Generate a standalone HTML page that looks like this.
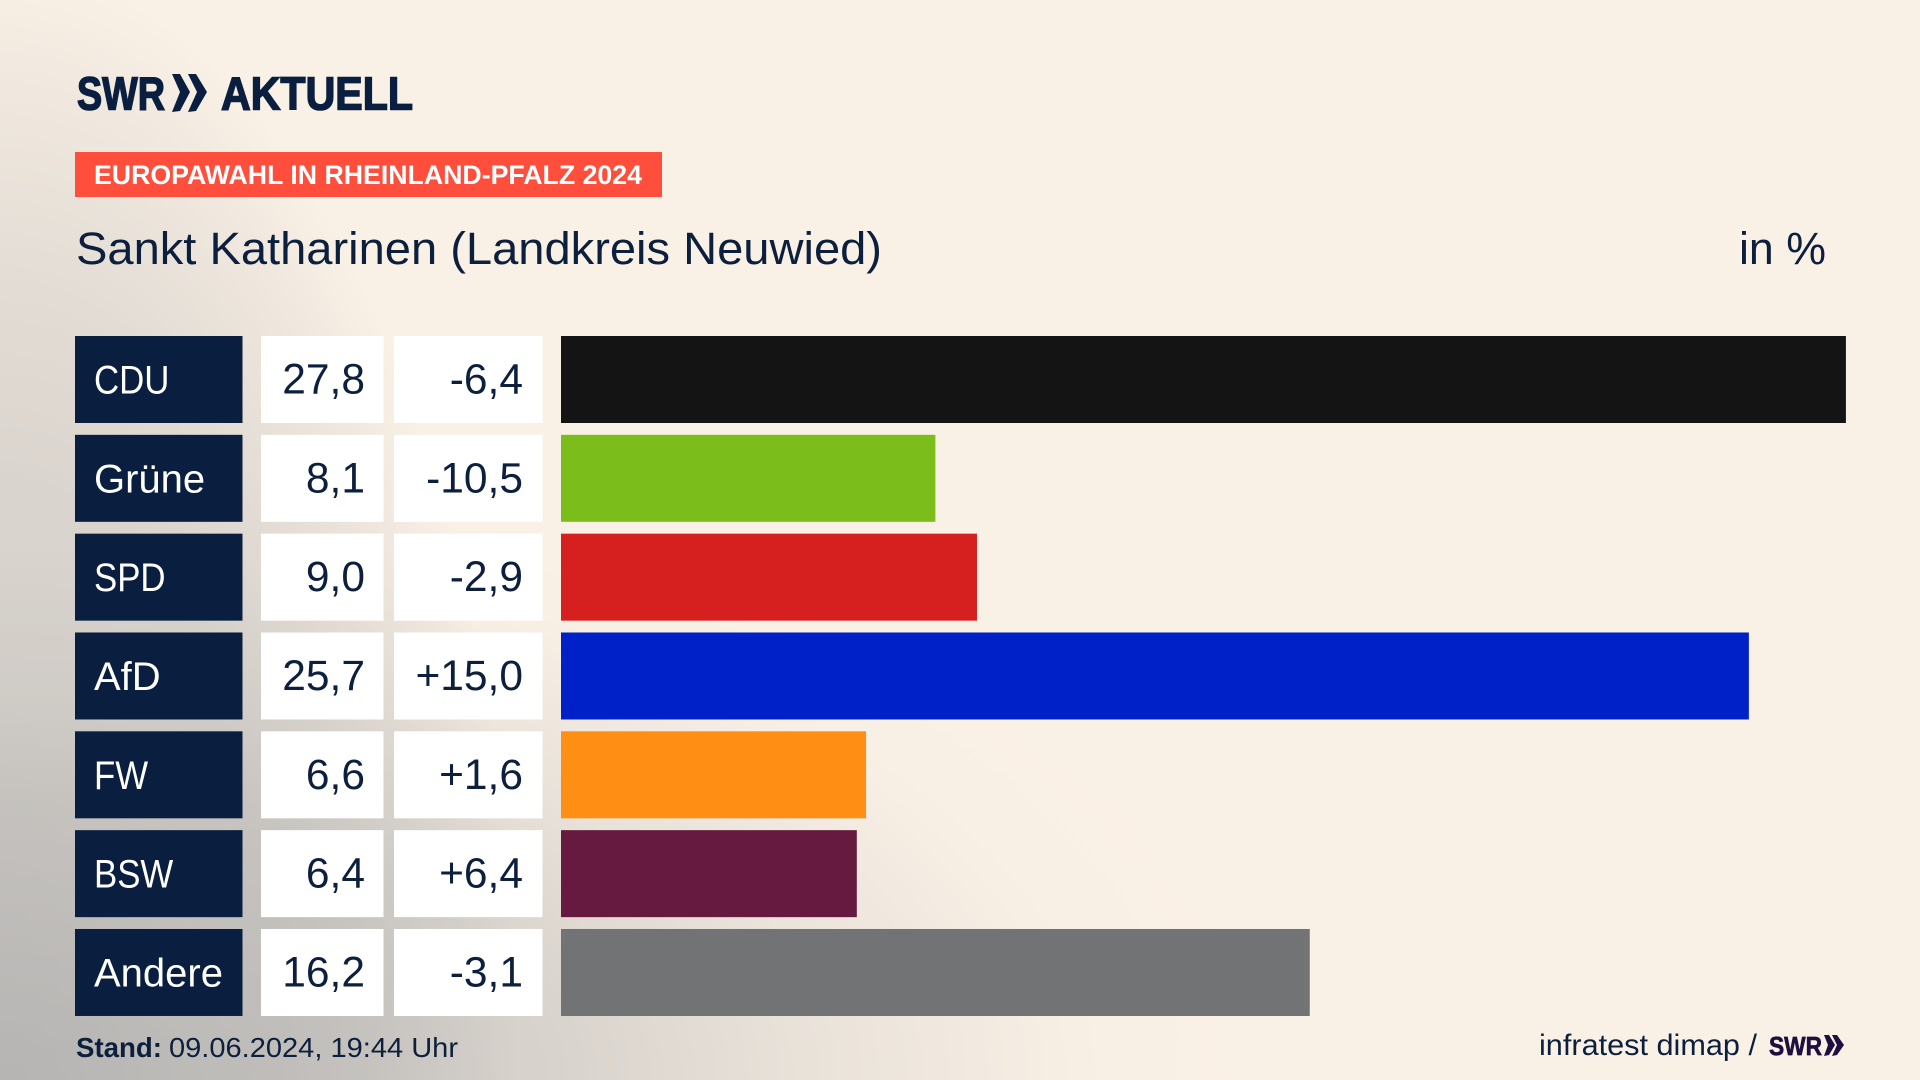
<!DOCTYPE html>
<html lang="de">
<head>
<meta charset="utf-8">
<title>Europawahl in Rheinland-Pfalz 2024 – Sankt Katharinen</title>
<style>
  html, body { margin: 0; padding: 0; width: 1920px; height: 1080px; overflow: hidden; }
  body {
    background:
      radial-gradient(ellipse 1280px 620px at 0% 100%, rgba(170,170,170,.7) 0%, rgba(170,170,170,.55) 23%, rgba(170,170,170,.42) 44%, rgba(170,170,170,.22) 62%, rgba(170,170,170,.02) 86%, rgba(170,170,170,0) 100%),
      radial-gradient(ellipse 520px 1120px at 0% 100%, rgba(170,170,170,.5) 0%, rgba(170,170,170,.4) 34%, rgba(170,170,170,.4) 53.5%, rgba(170,170,170,.3) 70%, rgba(170,170,170,.09) 92%, rgba(170,170,170,0) 100%);
    background-color: #faf1e6;
    font-family: "Liberation Sans", sans-serif;
  }
  svg { display: block; position: absolute; left: 0; top: 0; }
  text { font-family: "Liberation Sans", sans-serif; }
</style>
</head>
<body>
<svg id="chart" width="1920" height="1080" viewBox="0 0 1920 1080">
  <g fill="#0a1f3f" stroke="none" font-weight="700" font-size="46">
    <text x="77" y="109.5" stroke="#0a1f3f" stroke-width="1.5" textLength="88" lengthAdjust="spacingAndGlyphs">SWR</text>
    <polygon points="172,74 180,74 190,92 180,111 172,112 180,92"/>
    <polygon points="188,74 196,74 207,92 196,111 188,112 197,92"/>
    <text x="221" y="109.5" stroke="#0a1f3f" stroke-width="1.5" textLength="192" lengthAdjust="spacingAndGlyphs">AKTUELL</text>
  </g>

  <rect x="75" y="152" width="587" height="45" fill="#ff4f3c"/>
  <text x="94" y="184" fill="#fff" font-size="27" font-weight="700" textLength="548" lengthAdjust="spacingAndGlyphs">EUROPAWAHL IN RHEINLAND-PFALZ 2024</text>

  <text x="76" y="264" fill="#0c1f3d" font-size="45" textLength="806" lengthAdjust="spacingAndGlyphs">Sankt Katharinen (Landkreis Neuwied)</text>
  <text x="1739" y="264" fill="#0c1f3d" font-size="45" textLength="87" lengthAdjust="spacingAndGlyphs">in %</text>

  <g id="rows"></g>

  <text x="76" y="1057" fill="#0c1f3d" font-size="28" font-weight="700" textLength="86" lengthAdjust="spacingAndGlyphs">Stand:</text>
  <text x="169" y="1057" fill="#0c1f3d" font-size="28" textLength="289" lengthAdjust="spacingAndGlyphs">09.06.2024, 19:44 Uhr</text>

  <text x="1539" y="1055" fill="#0c1f3d" font-size="30" textLength="218" lengthAdjust="spacingAndGlyphs">infratest dimap /</text>
  <g fill="#1f0f40">
    <text x="1769" y="1055" font-size="26" font-weight="700" stroke="#1f0f40" stroke-width="0.7" textLength="53" lengthAdjust="spacingAndGlyphs">SWR</text>
    <polygon points="1824,1035 1829,1035 1835,1045 1829,1055 1824,1056 1828,1045"/>
    <polygon points="1832,1035 1837,1035 1844,1045 1837,1055 1832,1056 1837,1045"/>
  </g>
</svg>

<script>
const parties = ['CDU', 'Grüne', 'SPD', 'AfD', 'FW', 'BSW', 'Andere'];
const shares = [27.8, 8.1, 9.0, 25.7, 6.6, 6.4, 16.2];
const changes = [-6.4, -10.5, -2.9, 15.0, 1.6, 6.4, -3.1];
const partyColors = ['#141414', '#7bbd1a', '#d6201f', '#0021c8', '#ff8f14', '#661a3f', '#727374'];

const NS = 'http://www.w3.org/2000/svg';
const rowsGroup = document.getElementById('rows');

function xScale(value) { return 46.22 * value; }
function yBand(index) { return 336 + 98.83 * index; }
function formatShare(value) { return value.toFixed(1).replace('.', ','); }
function formatChange(value) { return (value > 0 ? '+' : '') + value.toFixed(1).replace('.', ','); }

function makeRect(x, y, w, h, fill) {
  const r = document.createElementNS(NS, 'rect');
  r.setAttribute('x', x);
  r.setAttribute('y', y);
  r.setAttribute('width', w);
  r.setAttribute('height', h);
  r.setAttribute('fill', fill);
  return r;
}

function makeText(x, y, content, fill, anchor, size) {
  const t = document.createElementNS(NS, 'text');
  t.setAttribute('x', x);
  t.setAttribute('y', y);
  t.setAttribute('fill', fill);
  t.setAttribute('font-size', size);
  t.setAttribute('text-anchor', anchor);
  t.textContent = content;
  return t;
}

parties.forEach(function (party, i) {
  const top = yBand(i);
  const base = top + 57.5;
  const slug = party.toLowerCase().replace('ü', 'ue');

  const labelBox = makeRect(75, top, 167.5, 87, '#0a1f3f');
  
  
  rowsGroup.appendChild(labelBox);

  const label = makeText(94, base, party, '#ffffff', 'start', '40');
  
  
  rowsGroup.appendChild(label);
  if (party === party.toUpperCase()) {
    label.setAttribute('textLength', label.getComputedTextLength() * 0.87);
    label.setAttribute('lengthAdjust', 'spacingAndGlyphs');
  }

  const shareBox = makeRect(261, top, 122.5, 87, '#ffffff');
  
  
  rowsGroup.appendChild(shareBox);

  const share = makeText(365, base, formatShare(shares[i]), '#0c1f3d', 'end', '42.5');
  
  
  rowsGroup.appendChild(share);

  const changeBox = makeRect(394, top, 148.5, 87, '#ffffff');
  
  
  rowsGroup.appendChild(changeBox);

  const change = makeText(523, base, formatChange(changes[i]), '#0c1f3d', 'end', '42.5');
  
  
  rowsGroup.appendChild(change);

  const bar = makeRect(561, top, xScale(shares[i]), 87, partyColors[i]);
  
  
  rowsGroup.appendChild(bar);
});
</script>
</body>
</html>
